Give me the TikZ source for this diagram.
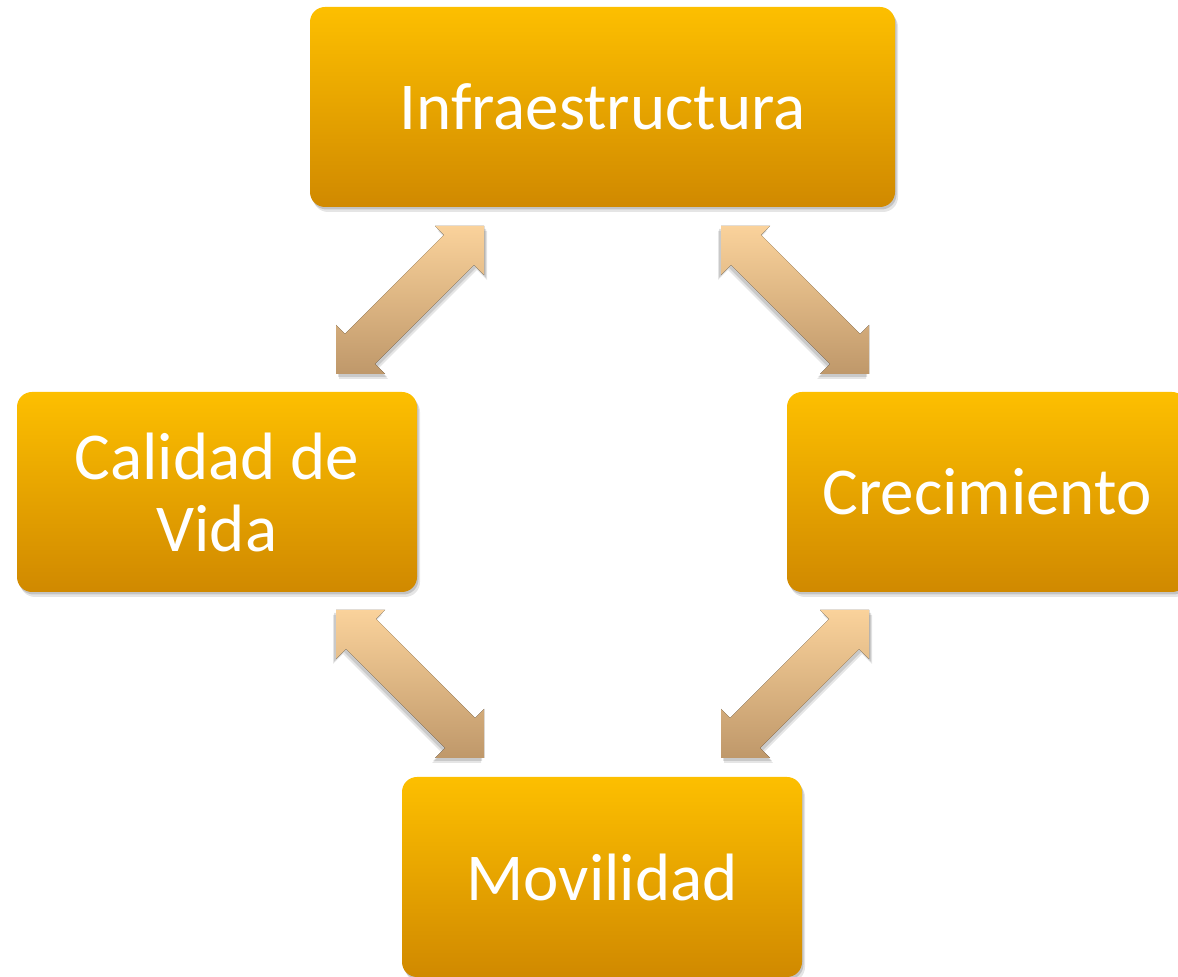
\documentclass[tikz,border=0pt]{standalone}
\usepackage{fontspec}
\setmainfont{Carlito}
\usetikzlibrary{shadows}
\definecolor{boxtop}{RGB}{253,191,0}
\definecolor{boxbot}{RGB}{208,137,0}
\definecolor{arrtop}{RGB}{250,210,155}
\definecolor{arrbot}{RGB}{191,152,106}
\newcommand\arrowpoly{(148,148)--(148,99)--(138,109)--(39,10)--(49,0)--(0,0)--(0,49)--(9,40)--(108,139)--(99,148)--cycle}
\newcommand\dblarrowat[3]{%
  \begin{scope}[shift={(#1,#2)}]
    \begin{scope}[shift={(74,0)},xscale=#3,shift={(-74,0)}]
      \fill[black,opacity=0.10,shift={(3,-5)}] \arrowpoly;
      \fill[black,opacity=0.12,shift={(2,-3)}] \arrowpoly;
      \fill[top color=arrtop,bottom color=arrbot] \arrowpoly;
    \end{scope}
  \end{scope}}
\begin{document}
\begin{tikzpicture}[x=1pt,y=1pt,
  box/.style={rounded corners=15pt, top color=boxtop, bottom color=boxbot,
    text=white, font=\fontsize{67}{72}\selectfont, align=center,
    inner sep=0pt, minimum height=200pt,
    drop shadow={shadow xshift=3pt, shadow yshift=-5pt, opacity=0.10, fill=black},
    drop shadow={shadow xshift=1.5pt, shadow yshift=-2.5pt, opacity=0.15, fill=black}}]
\useasboundingbox (0,0) rectangle (1178,977);
\node[box, minimum width=585pt] (infra) at (602.5,870) {Infraestructura};
\node[box, minimum width=400pt] (calidad) at (217,485) {Calidad de\\Vida};
\node[box, minimum width=400pt] (crec) at (987,485) {Crecimiento};
\node[box, minimum width=400pt] (movil) at (602,100) {Movilidad};
\dblarrowat{336}{603}{1}
\dblarrowat{721}{603}{-1}
\dblarrowat{336}{219}{-1}
\dblarrowat{721}{219}{1}
\end{tikzpicture}
\end{document}
